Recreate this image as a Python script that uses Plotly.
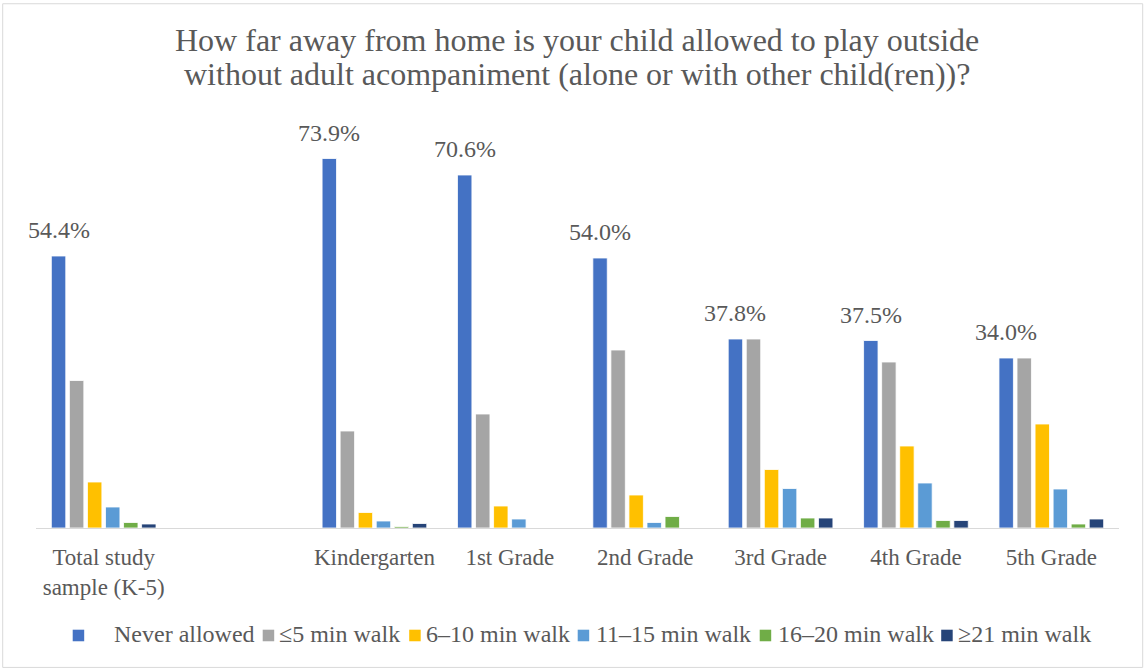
import plotly.graph_objects as go

# Survey categories (blank entry leaves a gap after the total sample)
categories = ["Total study<br>sample (K-5)", " ", "Kindergarten", "1st Grade",
              "2nd Grade", "3rd Grade", "4th Grade", "5th Grade"]

series_names = ["Never allowed", "≤5 min walk", "6–10 min walk",
                "11–15 min walk", "16–20 min walk", "≥21 min walk"]

never_allowed = [54.4, None, 73.9, 70.6, 54.0, 37.8, 37.5, 34.0]
walk_0_5 = [29.5, None, 19.4, 22.8, 35.6, 37.8, 33.2, 34.0]
walk_6_10 = [9.2, None, 3.1, 4.4, 6.6, 11.7, 16.4, 20.8]
walk_11_15 = [4.2, None, 1.4, 1.8, 1.1, 7.9, 9.0, 7.8]
walk_16_20 = [1.1, None, 0.3, 0.0, 2.3, 2.0, 1.5, 0.8]
walk_21_plus = [0.8, None, 0.9, 0.0, 0.0, 2.0, 1.5, 1.8]

title_lines = ["How far away from home is your child allowed to play outside",
               "without adult acompaniment (alone or with other child(ren))?"]

series_values = [never_allowed, walk_0_5, walk_6_10, walk_11_15, walk_16_20, walk_21_plus]
colors = ["#4472C4", "#A5A5A5", "#FFC000", "#5B9BD5", "#70AD47", "#264478"]

FONT = "Liberation Serif"
TXT = "#595959"

W, H = 1146, 671
ML, MR, MT, MB = 36.3, 26.7, 127.5, 142.7
PW, PH = W - ML - MR, H - MT - MB


def px_x(px):
    return (px - ML) / PW


def px_y(py):
    return (H - MB - py) / PH


fig = go.Figure()
for name, vals, col in zip(series_names, series_values, colors):
    fig.add_trace(go.Bar(
        x=categories, y=vals, name=name, showlegend=False,
        marker=dict(color=col, line=dict(color="white", width=0.8)),
    ))

# Percentage labels above the "Never allowed" bars (first bar of each group)
n_series = len(series_names)
bargap = 0.2
cat_px = PW / len(categories)
slot_px = cat_px * (1 - bargap) / n_series
first_bar_offset = -(n_series - 1) / 2 * slot_px
for cat, v in zip(categories, never_allowed):
    if v is None:
        continue
    fig.add_annotation(
        x=cat, y=v, text=f"{v:.1f}%", showarrow=False,
        xref="x", yref="y", xshift=first_bar_offset, yanchor="bottom", yshift=11,
        font=dict(family=FONT, size=24, color=TXT),
    )

# Two-line chart title
for line, base in zip(title_lines, [51.7, 85.0]):
    fig.add_annotation(
        x=px_x(577), y=px_y(base + 8), xref="paper", yref="paper",
        text=line, showarrow=False, xanchor="center", yanchor="bottom",
        font=dict(family=FONT, size=32, color=TXT),
    )

# Legend row below the axis: colour square followed by the series name
legend_square_x = [73, 263, 409.5, 578, 760, 941.5]
legend_text_x = [114, 279, 426, 596, 778, 958]
LEG_Y = 636
for name, col, sx, tx in zip(series_names, colors, legend_square_x, legend_text_x):
    fig.add_shape(type="rect", xref="paper", yref="paper",
                  x0=px_x(sx), x1=px_x(sx + 11.5), y0=px_y(LEG_Y + 5.8), y1=px_y(LEG_Y - 5.8),
                  line=dict(width=0), fillcolor=col)
    fig.add_annotation(
        x=px_x(tx), y=px_y(LEG_Y - 1), xref="paper", yref="paper",
        text=name, showarrow=False, xanchor="left", yanchor="middle",
        xshift=-2, font=dict(family=FONT, size=24, color=TXT),
    )

# Light outer frame around the whole chart
fig.add_shape(type="rect", xref="paper", yref="paper",
              x0=px_x(3), x1=px_x(W - 3), y0=px_y(H - 3), y1=px_y(3),
              line=dict(color="#D9D9D9", width=1), layer="below")

fig.update_layout(
    width=W, height=H,
    margin=dict(l=ML, r=MR, t=MT, b=MB),
    paper_bgcolor="white", plot_bgcolor="white",
    barmode="group", bargap=bargap, bargroupgap=0.2,
    font=dict(family=FONT, size=23, color=TXT),
    xaxis=dict(
        type="category", range=[-0.5, len(categories) - 0.5],
        showline=True, linecolor="#D9D9D9", linewidth=1,
        showgrid=False, ticks="", ticklabelstandoff=8, automargin=False,
        tickfont=dict(family=FONT, size=23, color=TXT),
    ),
    yaxis=dict(range=[0, 80], visible=False, showgrid=False, automargin=False),
    showlegend=False,
)

fig.write_html("out.html")
